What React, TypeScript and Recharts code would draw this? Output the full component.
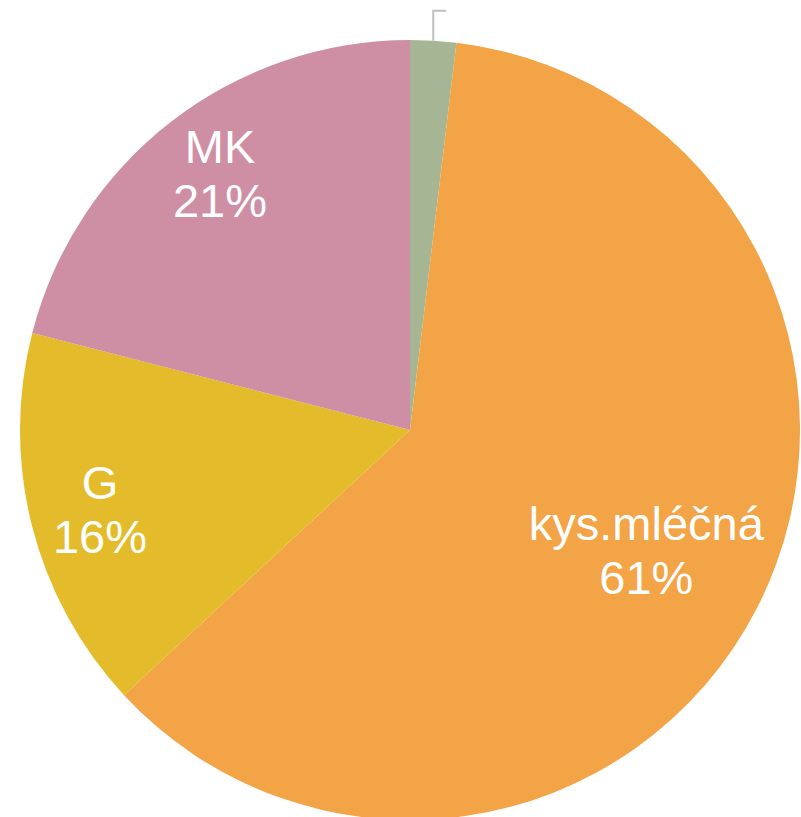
import React from "react";
import { PieChart, Pie, Cell } from "recharts";

const categories = ["ostatní", "kys.mléčná", "G", "MK"];
const values = [1.9, 61.2, 15.9, 21.0];
const colors = ["#A6B593", "#F2A446", "#E4BB2A", "#CE8FA5"];

const data = categories.map((name, i) => ({ name, value: values[i] }));

const RADIAN = Math.PI / 180;

const renderLabel = (props: any) => {
  const { cx, cy, midAngle, outerRadius, index, percent, name } = props;
  const cos = Math.cos(-midAngle * RADIAN);
  const sin = Math.sin(-midAngle * RADIAN);
  if (index === 0) {
    const sx = cx + outerRadius * cos;
    const sy = cy + outerRadius * sin;
    const ty = sy - 30;
    return (
      <path
        d={`M${sx},${sy} L${sx},${ty} L${sx + 13},${ty}`}
        stroke="#BFBFBF"
        strokeWidth={2}
        fill="none"
      />
    );
  }
  const f = index === 1 ? 0.68 : 0.82;
  const x = cx + outerRadius * f * cos + (index === 3 ? 6 : 0);
  const y = cy + outerRadius * f * sin - (index === 3 ? 4 : 0);
  return (
    <text
      x={x}
      y={y}
      fill="#FFFFFF"
      textAnchor="middle"
      fontFamily="'Liberation Sans', Arial, sans-serif"
      fontSize={47}
    >
      <tspan x={x} y={y - 10}>{name}</tspan>
      <tspan x={x} y={y + 44}>{`${Math.round(percent * 100)}%`}</tspan>
    </text>
  );
};

export default function App() {
  return (
    <div style={{ position: "absolute", left: 0, top: 0, width: 801, height: 817 }}>
      <PieChart width={801} height={817} margin={{ top: 0, right: 0, bottom: 0, left: 0 }}>
        <Pie
          data={data}
          dataKey="value"
          nameKey="name"
          cx={410}
          cy={430}
          outerRadius={390}
          startAngle={90}
          endAngle={-270}
          stroke="none"
          label={renderLabel}
          labelLine={false}
          isAnimationActive={false}
        >
          {data.map((d, i) => (
            <Cell key={d.name} fill={colors[i]} />
          ))}
        </Pie>
      </PieChart>
    </div>
  );
}
